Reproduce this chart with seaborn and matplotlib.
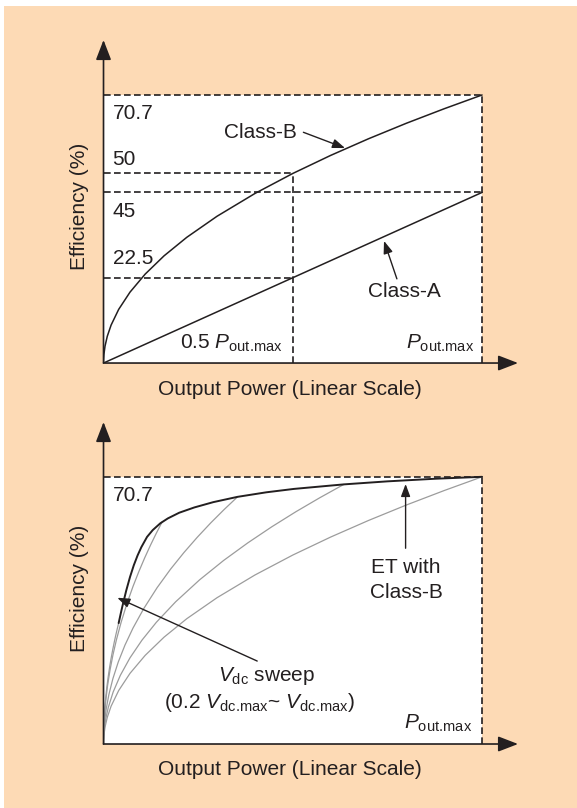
import matplotlib
matplotlib.use("Agg")
import matplotlib.pyplot as plt
from matplotlib.patches import Rectangle
import seaborn as sns

# ---- data: output power as a fraction of P_out.max, efficiency in % ----
class_b_power = [0.0, 0.0002, 0.001, 0.004, 0.01, 0.02, 0.04, 0.07, 0.11, 0.16,
                 0.22, 0.3, 0.4, 0.5, 0.6, 0.7, 0.8, 0.9, 1.0]
class_b_eff = [0.0, 1.0, 2.24, 4.47, 7.07, 10.0, 14.14, 18.7, 23.45, 28.28,
               33.16, 38.72, 44.72, 50.0, 54.76, 59.15, 63.24, 67.07, 70.7]

class_a_power = [0.0, 1.0]
class_a_eff = [0.0, 45.0]

eff_max = 70.7
ref_half_power = 0.5
ref_class_b_half = 50.0
ref_class_a_full = 45.0
ref_class_a_half = 22.5
top_level_labels = ["70.7", "50", "45", "22.5"]

# envelope-tracking Class-B: supply swept from 0.2 to 1.0 of V_dc.max
sweep_vdc = [0.2, 0.4, 0.6, 0.8, 1.0]
sweep_end_power = [0.04, 0.155, 0.354, 0.635, 1.0]
sweep_end_eff = [32.0, 58.8, 65.4, 68.7, 70.7]

et_power = [0.04, 0.045, 0.05, 0.06, 0.07, 0.08, 0.09, 0.10, 0.115, 0.13, 0.15,
            0.17, 0.2, 0.24, 0.29, 0.354, 0.43, 0.503, 0.635, 0.75, 0.878, 1.0]
et_eff = [32.0, 34.3, 36.5, 40.6, 44.2, 47.3, 49.9, 52.1, 54.8, 56.6, 58.4,
          59.7, 61.2, 62.6, 64.0, 65.4, 66.6, 67.5, 68.7, 69.5, 70.2, 70.7]

# ---- style ----
sns.set_theme(style="white")
plt.rcParams["font.family"] = ["Liberation Sans", "DejaVu Sans"]
plt.rcParams["mathtext.fontset"] = "custom"
plt.rcParams["mathtext.rm"] = "Liberation Sans"
plt.rcParams["mathtext.it"] = "Liberation Sans:italic"
plt.rcParams["mathtext.bf"] = "Liberation Sans:bold"

PEACH = "#FDDAB5"
INK = "#231F20"
GRAY = "#9C9C9C"
FS = 15
DASH = (0, (4, 2))
XMAX = 1.095
YMAX = 85.2
P_MAX_TEX = r"$P_{\mathrm{out.\!max}}$"
V_MAX_TEX = r"$V_{\mathrm{dc.\!max}}$"

fig = plt.figure(figsize=(5.77, 8.08), dpi=100)
fig.patch.set_facecolor("white")
fig.add_artist(Rectangle((4 / 577, 0), 1, (808 - 6) / 808, transform=fig.transFigure,
                         facecolor=PEACH, edgecolor="none", zorder=-10))

ax_top = fig.add_axes([0.1794, 0.5507, 0.7184, 0.3998])
ax_bot = fig.add_axes([0.1794, 0.0792, 0.7184, 0.3985])


def small_arrow(ax, start, tip):
    ax.annotate("", xy=tip, xytext=start, annotation_clip=False,
                arrowprops=dict(arrowstyle="-|>,head_length=0.75,head_width=0.28",
                                mutation_scale=10, lw=1.0, color=INK,
                                shrinkA=0, shrinkB=0))


def frame(ax, xlabel_y, pmax_label_pos):
    ax.set_axis_off()
    ax.add_patch(Rectangle((0, 0), 1.0, eff_max, facecolor="white",
                           edgecolor="none", zorder=0))
    for tip in [(0, YMAX), (XMAX, 0)]:
        ax.annotate("", xy=tip, xytext=(0, 0), annotation_clip=False,
                    arrowprops=dict(arrowstyle="-|>,head_length=1.22,head_width=0.47",
                                    mutation_scale=10, lw=1.2, color=INK,
                                    shrinkA=0, shrinkB=0), zorder=5)
    # outer dashed box at maximum efficiency / maximum power
    ax.plot([0, 1.0], [eff_max, eff_max], ls=DASH, lw=1.2, color=INK, zorder=2, clip_on=False)
    ax.plot([1.0, 1.0], [0, eff_max], ls=DASH, lw=1.2, color=INK, zorder=2, clip_on=False)
    ax.text(0.493, xlabel_y, "Output Power (Linear Scale)", fontsize=FS, color=INK,
            ha="center", va="baseline", clip_on=False)
    ax.text(-0.0647, 41.2, "Efficiency (%)", fontsize=FS, color=INK, rotation=90,
            ha="center", va="center", clip_on=False)
    ax.text(*pmax_label_pos, P_MAX_TEX, fontsize=FS, color=INK,
            ha="right", va="baseline")
    ax.text(0.024, 64.4, top_level_labels[0], fontsize=FS, color=INK,
            ha="left", va="baseline")


# ---- top panel: Class-A vs Class-B ----
frame(ax_top, -8.4, (0.979, 3.87))
ax_top.plot([0, ref_half_power], [ref_class_b_half] * 2, ls=DASH, lw=1.2, color=INK, zorder=2)
ax_top.plot([ref_half_power] * 2, [0, ref_class_b_half], ls=DASH, lw=1.2, color=INK, zorder=2)
ax_top.plot([0, 1.0], [ref_class_a_full] * 2, ls=DASH, lw=1.2, color=INK, zorder=2)
ax_top.plot([0, ref_half_power], [ref_class_a_half] * 2, ls=DASH, lw=1.2, color=INK, zorder=2)

sns.lineplot(x=class_b_power, y=class_b_eff, ax=ax_top, color=INK, lw=1.1,
             estimator=None, sort=False, legend=False, zorder=3)
sns.lineplot(x=class_a_power, y=class_a_eff, ax=ax_top, color=INK, lw=1.1,
             estimator=None, sort=False, legend=False, zorder=3)

for text, y in zip(top_level_labels[1:], [52.2, 38.6, 26.1]):
    ax_top.text(0.024, y, text, fontsize=FS, color=INK, ha="left", va="baseline")

ax_top.text(0.4156, 59.3, "Class-B", fontsize=FS, color=INK, ha="center", va="baseline")
small_arrow(ax_top, (0.528, 60.86), (0.638, 56.7))
ax_top.text(0.794, 17.5, "Class-A", fontsize=FS, color=INK, ha="center", va="baseline")
small_arrow(ax_top, (0.775, 22.2), (0.741, 32.2))
ax_top.text(0.473, 3.87, "0.5 " + P_MAX_TEX, fontsize=FS, color=INK,
            ha="right", va="baseline")

# ---- bottom panel: envelope tracking with Class-B ----
frame(ax_bot, -8.2, (0.973, 4.15))
for p_end, e_end in zip(sweep_end_power, sweep_end_eff):
    xs = [p_end * p for p in class_b_power]
    ys = [e_end * e / eff_max for e in class_b_eff]
    sns.lineplot(x=xs, y=ys, ax=ax_bot, color=GRAY, lw=0.9,
                 estimator=None, sort=False, legend=False, zorder=3)
sns.lineplot(x=et_power, y=et_eff, ax=ax_bot, color=INK, lw=1.4,
             estimator=None, sort=False, legend=False, zorder=4)

ax_bot.text(0.799, 45.3, "ET with", fontsize=FS, color=INK, ha="center", va="baseline")
ax_bot.text(0.799, 38.6, "Class-B", fontsize=FS, color=INK, ha="center", va="baseline")
small_arrow(ax_bot, (0.798, 51.8), (0.798, 68.8))

ax_bot.text(0.43, 16.66, r"$V_{\mathrm{dc}}$ sweep", fontsize=FS, color=INK,
            ha="center", va="baseline")
ax_bot.text(0.413, 9.6, "(0.2 " + V_MAX_TEX + "~ " + V_MAX_TEX + ")", fontsize=FS,
            color=INK, ha="center", va="baseline")
small_arrow(ax_bot, (0.406, 21.95), (0.0365, 38.7))

for ax in (ax_top, ax_bot):
    ax.set_xlim(0, XMAX)
    ax.set_ylim(0, YMAX)

fig.savefig("out.png", dpi=100, facecolor=fig.get_facecolor())
